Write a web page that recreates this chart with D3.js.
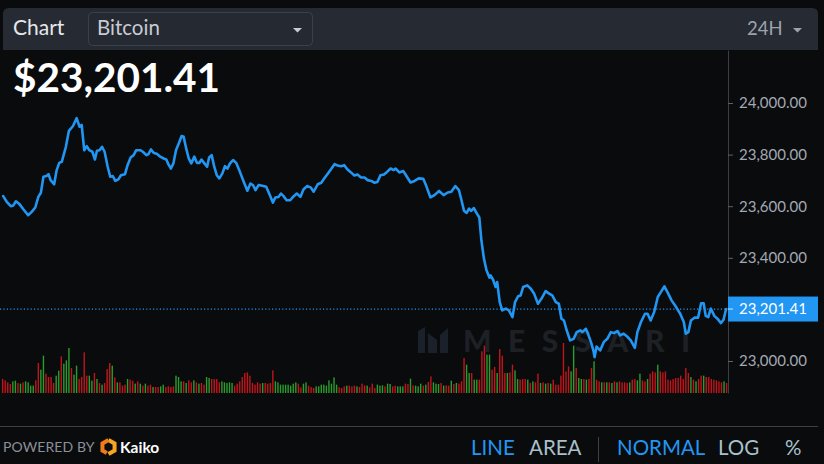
<!DOCTYPE html>
<html><head><meta charset="utf-8">
<script src="https://cdn.jsdelivr.net/npm/d3@7"></script>
<style>
html,body{margin:0;padding:0;background:#0a0b0d;overflow:hidden}
svg{display:block;font-family:Lato,"Open Sans",sans-serif}
</style></head><body>
<svg id="c" width="824" height="464"></svg>
<script>
// ---------- DATA ----------
const assetName = "Bitcoin";
const rangeLabel = "24H";
const lastPrice = 23201.41;

const priceTimes = ["29 12:21","29 12:28","29 12:36","29 12:41","29 12:46","29 12:53","29 13:01","29 13:10","29 13:17","29 13:24",
"29 13:30","29 13:35","29 13:40","29 13:46","29 13:50","29 13:54","29 14:01","29 14:06","29 14:11","29 14:16",
"29 14:24","29 14:30","29 14:38","29 14:45","29 14:51","29 14:55","29 15:00","29 15:05","29 15:10","29 15:16",
"29 15:21","29 15:25","29 15:30","29 15:35","29 15:40","29 15:46","29 15:51","29 15:56","29 16:01","29 16:07",
"29 16:12","29 16:20","29 16:25","29 16:31","29 16:37","29 16:42","29 16:50","29 16:55","29 17:02","29 17:06",
"29 17:11","29 17:16","29 17:23","29 17:29","29 17:36","29 17:41","29 17:45","29 17:50","29 17:55","29 18:00",
"29 18:06","29 18:11","29 18:15","29 18:20","29 18:25","29 18:30","29 18:36","29 18:41","29 18:46","29 18:50",
"29 18:55","29 19:01","29 19:05","29 19:10","29 19:15","29 19:20","29 19:25","29 19:31","29 19:36","29 19:41",
"29 19:46","29 19:52","29 19:58","29 20:05","29 20:13","29 20:20","29 20:26","29 20:31","29 20:36","29 20:42",
"29 20:49","29 20:57","29 21:04","29 21:10","29 21:15","29 21:21","29 21:26","29 21:31","29 21:37","29 21:44",
"29 21:51","29 21:57","29 22:04","29 22:10","29 22:17","29 22:24","29 22:30","29 22:38","29 22:45","29 22:51",
"29 22:58","29 23:04","29 23:11","29 23:17","29 23:24","29 23:30","29 23:36","29 23:42","29 23:50","29 23:56",
"30 00:03","30 00:10","30 00:16","30 00:23","30 00:29","30 00:35","30 00:41","30 00:48","30 00:54","30 01:01",
"30 01:07","30 01:11","30 01:18","30 01:26","30 01:32","30 01:40","30 01:48","30 01:56","30 02:05","30 02:11",
"30 02:19","30 02:27","30 02:36","30 02:45","30 02:53","30 03:00","30 03:08","30 03:15","30 03:20","30 03:25",
"30 03:30","30 03:35","30 03:39","30 03:44","30 03:50","30 03:55","30 03:59","30 04:04","30 04:09","30 04:15",
"30 04:17","30 04:22","30 04:27","30 04:30","30 04:35","30 04:40","30 04:47","30 04:53","30 05:00","30 05:05",
"30 05:11","30 05:16","30 05:21","30 05:29","30 05:36","30 05:42","30 05:50","30 05:57","30 06:05","30 06:12",
"30 06:18","30 06:25","30 06:31","30 06:36","30 06:41","30 06:46","30 06:53","30 07:00","30 07:06","30 07:13",
"30 07:17","30 07:24","30 07:28","30 07:34","30 07:39","30 07:41","30 07:45","30 07:52","30 07:59","30 08:06",
"30 08:13","30 08:19","30 08:26","30 08:31","30 08:38","30 08:46","30 08:52","30 09:00","30 09:05","30 09:12",
"30 09:20","30 09:25","30 09:31","30 09:38","30 09:45","30 09:51","30 09:58","30 10:04","30 10:12","30 10:21",
"30 10:29","30 10:36","30 10:40","30 10:45","30 10:50","30 10:57","30 11:04","30 11:10","30 11:15","30 11:19",
"30 11:24","30 11:29","30 11:36","30 11:42","30 11:49","30 11:54","30 11:59"];

const priceValues = [23639,23617,23600,23603,23619,23608,23587,23565,23578,23595,
23636,23652,23714,23717,23724,23701,23685,23740,23768,23772,
23830,23892,23911,23941,23908,23915,23817,23833,23817,23811,
23781,23815,23817,23830,23811,23753,23714,23717,23698,23704,
23720,23724,23759,23789,23798,23817,23817,23811,23798,23802,
23820,23807,23802,23792,23785,23781,23763,23746,23766,23817,
23846,23872,23869,23824,23785,23766,23792,23768,23768,23781,
23768,23753,23789,23798,23753,23720,23708,23727,23755,23746,
23766,23779,23768,23735,23694,23660,23688,23682,23662,23682,
23679,23675,23643,23614,23634,23636,23649,23639,23623,23623,
23639,23649,23636,23665,23678,23673,23656,23685,23691,23708,
23727,23743,23763,23758,23755,23759,23743,23733,23719,23723,
23711,23711,23701,23698,23691,23694,23720,23723,23733,23746,
23740,23746,23731,23736,23717,23692,23698,23708,23706,23678,
23634,23643,23659,23643,23653,23656,23678,23662,23623,23582,
23574,23591,23582,23593,23572,23556,23468,23397,23352,23323,
23332,23315,23287,23306,23228,23196,23203,23196,23170,23228,
23251,23254,23287,23293,23280,23263,23222,23242,23271,23261,
23254,23228,23222,23164,23157,23121,23080,23086,23112,23119,
23112,23125,23106,23073,23038,23015,23056,23041,23073,23086,
23112,23108,23116,23099,23106,23093,23080,23051,23112,23151,
23183,23183,23157,23190,23248,23267,23289,23267,23235,23209,
23183,23151,23106,23112,23157,23168,23168,23224,23224,23175,
23170,23203,23175,23164,23147,23160,23201.41];

// 5-minute volume bars starting at 29 12:20
const volumeStart = "29 12:20";
const volumeStepMinutes = 5;
const volumeValues = [280,253,213,180,233,247,200,187,213,233,
213,147,147,253,600,467,747,387,320,320,
200,347,447,733,587,653,900,500,367,547,
280,320,813,347,347,247,400,280,200,167,
200,480,600,547,313,213,213,147,167,280,
267,247,187,233,187,147,187,147,167,120,
120,120,133,167,120,133,120,133,
347,320,233,233,200,253,213,253,213,187,
200,167,320,300,280,280,280,213,233,213,
200,213,200,147,187,233,320,400,413,347,
200,167,213,187,200,200,187,200,453,
233,213,167,167,167,167,147,187,213,187,
113,187,213,147,120,100,133,133,167,167,
147,253,187,313,167,113,100,133,147,147,
133,147,133,120,187,153,147,113,187,100,
167,147,153,133,187,180,133,147,133,133,
133,187,180,287,153,147,133,187,147,167,
220,333,213,187,180,200,147,153,147,247,
180,200,187,233,
700,567,400,400,267,267,267,833,947,767,
767,467,520,400,880,747,400,400,413,567,
453,280,267,280,280,267,200,233,213,387,
200,213,187,200,187,267,167,167,347,1000,
433,533,433,947,500,300,280,280,267,280,
500,633,267,233,213,213,213,213,200,233,
213,233,213,213,200,213,267,280,253,387,
253,233,280,387,433,413,567,433,413,433,
267,253,280,300,300,347,280,500,400,320,
267,233,280,347,347,320,320,280,267,253,
233,213,233,200,187];
const volumeDirections = ("rrrrggrgrg"+"gggrrggrrr"+"rggrgggrgg"+"rrrrggrgrg"+"rrrgrgrrrg"+"rrgrgrgrrg"+"rrggrrrr"+
"gggrgrrgrg"+"rrggrrrrgg"+"gggrrrrrrr"+"rrrrgrrrr"+"ggggggggg"+"r"+
"rggrrrgggg"+"gggggrrrgr"+"rrgrrrgrrr"+"gggrggrrgg"+"grrgrgggrg"+"rrgggrgrrg"+"rgrr"+
"rggrggrrrg"+"grrgrrrgrr"+"ggrrrgrgrr"+"grgrgrrrrr"+"rrggrggrgr"+"rgrrgrgrgr"+"grrrrgrrgg"+"rrgrrrgrrr"+
"rrrrrrrrrg"+"rgrrgrrrrr"+"rrgrr").split("");

const yTickValues = [23000,23200,23400,23600,23800,24000];
const xTickTimes = ["29 13:00","29 18:00","30 00:00","30 06:00","30 12:00"];
const xTickLabels = ["13:00","18:00","30","06:00","12:00"];
const footerChartTypes = ["LINE","AREA"];
const footerScaleTypes = ["NORMAL","LOG","%"];

// ---------- SETUP ----------
const parse = d3.timeParse("%Y-%m-%d %H:%M");
const T = s => parse("2022-07-" + s);
const svg = d3.select("#c");
const W = 824, H = 464;
const plotLeft = 0, plotRight = 728, plotTop = 50, plotBottom = 393;

const x = d3.scaleTime().domain([T("29 12:15"), T("30 12:05")]).range([0.1, 729.15]);
const y = d3.scaleLinear().domain([22876, 24205.4]).range([plotBottom, plotTop]);
const yVol = d3.scaleLinear().domain([0, 1000]).range([plotBottom, plotBottom - 50]);

const BLUE = "#2196f3";

svg.append("rect").attr("width", W).attr("height", H).attr("fill", "#0a0b0d");

const defs = svg.append("defs");
defs.append("clipPath").attr("id", "plotclip").append("rect")
  .attr("x", plotLeft).attr("y", plotTop).attr("width", plotRight - plotLeft).attr("height", plotBottom - plotTop + 1);
defs.append("clipPath").attr("id", "xclip").append("rect")
  .attr("x", 0).attr("y", plotBottom - 2).attr("width", plotRight).attr("height", 40);

// ---------- WATERMARK ----------
const wm = svg.append("g").attr("fill", "#1d2025");
const lg = wm.append("g").attr("fill", "#1a212b");
lg.append("path").attr("d", "M418,331 L425,327 L425,353 L418,353 Z");
lg.append("path").attr("d", "M428,333 L437,340 L437,353 L428,353 Z");
lg.append("path").attr("d", "M440,335 L448,328 L448,353 L440,353 Z");
wm.append("text").attr("x", 463).attr("y", 352).attr("font-size", 30).attr("font-weight", 900)
  .attr("textLength", 227).attr("lengthAdjust", "spacing").text("MESSARI");

// ---------- VOLUME ----------
const vStart = T(volumeStart);
const volData = volumeValues.map((v, i) => ({
  t: d3.timeMinute.offset(vStart, i * volumeStepMinutes), v, d: volumeDirections[i] || "r"
}));
svg.append("g").attr("clip-path", "url(#plotclip)")
  .selectAll("rect").data(volData).join("rect")
  .attr("x", d => x(d.t) - 0.7).attr("width", 1.4)
  .attr("y", d => yVol(d.v)).attr("height", d => plotBottom - yVol(d.v))
  .attr("fill", d => d.d === "g" ? "#2a9d2c" : "#c1151b");

// ---------- CURRENT PRICE DOTTED LINE ----------
svg.append("line").attr("x1", plotLeft).attr("x2", plotRight)
  .attr("y1", y(lastPrice)).attr("y2", y(lastPrice))
  .attr("stroke", BLUE).attr("stroke-width", 1.2).attr("stroke-dasharray", "1.2,2.2");

// ---------- PRICE LINE ----------
const lineData = priceTimes.map((s, i) => ({ t: T(s), v: priceValues[i] }));
svg.append("path").datum(lineData).attr("clip-path", "url(#plotclip)")
  .attr("fill", "none").attr("stroke", BLUE).attr("stroke-width", 2.6)
  .attr("stroke-linejoin", "round").attr("stroke-linecap", "round")
  .attr("d", d3.line().x(d => x(d.t)).y(d => y(d.v)));

// ---------- Y AXIS ----------
const yAxis = svg.append("g").attr("transform", `translate(${plotRight},0)`)
  .call(d3.axisRight(y).tickValues(yTickValues).tickFormat(d3.format(",.2f")).tickSize(5).tickSizeOuter(0).tickPadding(6));
yAxis.select(".domain").attr("stroke", "#3a3f47");
yAxis.selectAll(".tick line").attr("stroke", "#5d636c");
yAxis.selectAll("text").attr("fill", "#a3a9b2").attr("font-size", 15).attr("font-family", "Lato, sans-serif");

// current price tag
const tag = svg.append("g");
tag.append("rect").attr("x", plotRight).attr("y", y(lastPrice) - 12.5).attr("width", 90).attr("height", 25).attr("fill", BLUE);
tag.append("line").attr("x1", plotRight).attr("x2", plotRight + 5).attr("y1", y(lastPrice)).attr("y2", y(lastPrice))
  .attr("stroke", "#cfe6fb").attr("stroke-width", 1);
tag.append("text").attr("x", plotRight + 11).attr("y", y(lastPrice)).attr("dy", "0.36em")
  .attr("fill", "#ffffff").attr("font-size", 15).text(d3.format(",.2f")(lastPrice));

// ---------- X AXIS ----------
const xAxis = svg.append("g").attr("transform", `translate(0,${plotBottom})`).attr("clip-path", "url(#xclip)")
  .call(d3.axisBottom(x).tickValues(xTickTimes.map(T)).tickFormat((d, i) => xTickLabels[i]).tickSize(4).tickSizeOuter(0).tickPadding(9));
xAxis.select(".domain").remove();
xAxis.selectAll(".tick line").attr("stroke", "#5d636c");
xAxis.selectAll("text").attr("fill", "#8d939c").attr("font-size", 14).attr("font-family", "Lato, sans-serif")
  .filter((d, i) => xTickLabels[i] === "30").attr("font-weight", 700).attr("fill", "#bcc1c8");

// ---------- HEADER ----------
svg.append("path").attr("d", "M3,50 L3,14 Q3,8 9,8 L812,8 Q818,8 818,14 L818,50 Z").attr("fill", "#262b33");
svg.append("text").attr("x", 13).attr("y", 35).attr("font-size", 21).attr("fill", "#e6e8eb").text("Chart");
svg.append("rect").attr("x", 88.5).attr("y", 12.5).attr("width", 224).attr("height", 33).attr("rx", 4)
  .attr("fill", "#242932").attr("stroke", "#3b414b");
svg.append("text").attr("x", 97).attr("y", 35).attr("font-size", 20.5).attr("fill", "#c8ccd2").text(assetName);
svg.append("path").attr("d", "M293,28 L302,28 L297.5,32.5 Z").attr("fill", "#c8ccd2");
svg.append("text").attr("x", 747).attr("y", 35).attr("font-size", 18.5).attr("fill", "#9da3ad").text(rangeLabel);
svg.append("path").attr("d", "M793,28 L802,28 L797.5,32.5 Z").attr("fill", "#9da3ad");

svg.append("text").attr("x", 13).attr("y", 92).attr("font-size", 40.5).attr("font-weight", 700)
  .attr("fill", "#ffffff").text("$" + d3.format(",.2f")(lastPrice));

// ---------- FOOTER ----------
svg.append("line").attr("x1", 0).attr("x2", 818).attr("y1", 426.5).attr("y2", 426.5).attr("stroke", "#3c4148");
svg.append("text").attr("x", 3).attr("y", 452).attr("font-size", 14).attr("letter-spacing", 0.1)
  .attr("fill", "#8a9099").text("POWERED BY");
// Kaiko mark
const kc = svg.append("g").attr("transform", "translate(108.5,447)");
const hex = d3.range(6).map(k => [7 * Math.cos(Math.PI / 3 * k + Math.PI / 6), 7 * Math.sin(Math.PI / 3 * k + Math.PI / 6)]);
kc.append("path").attr("d", "M" + [hex[4], hex[5], hex[0], hex[1]].join("L"))
  .attr("fill", "none").attr("stroke", "#f5a623").attr("stroke-width", 4);
kc.append("path").attr("d", "M" + [hex[1], hex[2], hex[3], hex[4]].join("L"))
  .attr("fill", "none").attr("stroke", "#f07b1a").attr("stroke-width", 4).attr("stroke-dasharray", "0,2,40");
svg.append("text").attr("x", 120).attr("y", 453).attr("font-size", 15.5).attr("font-weight", 700)
  .attr("fill", "#ffffff").text("Kaiko");

const footY = 455;
svg.append("text").attr("x", 471).attr("y", footY).attr("font-size", 20.5).attr("fill", BLUE).text(footerChartTypes[0]);
svg.append("text").attr("x", 529).attr("y", footY).attr("font-size", 20.5).attr("fill", "#a9c0cb").text(footerChartTypes[1]);
svg.append("line").attr("x1", 598.5).attr("x2", 598.5).attr("y1", 437).attr("y2", 462).attr("stroke", "#3c4148");
svg.append("text").attr("x", 617).attr("y", footY).attr("font-size", 20.5).attr("fill", BLUE).text(footerScaleTypes[0]);
svg.append("text").attr("x", 718).attr("y", footY).attr("font-size", 20.5).attr("fill", "#a9c0cb").text(footerScaleTypes[1]);
svg.append("text").attr("x", 785).attr("y", footY).attr("font-size", 20.5).attr("fill", "#a9c0cb").text(footerScaleTypes[2]);
</script>
</body></html>
